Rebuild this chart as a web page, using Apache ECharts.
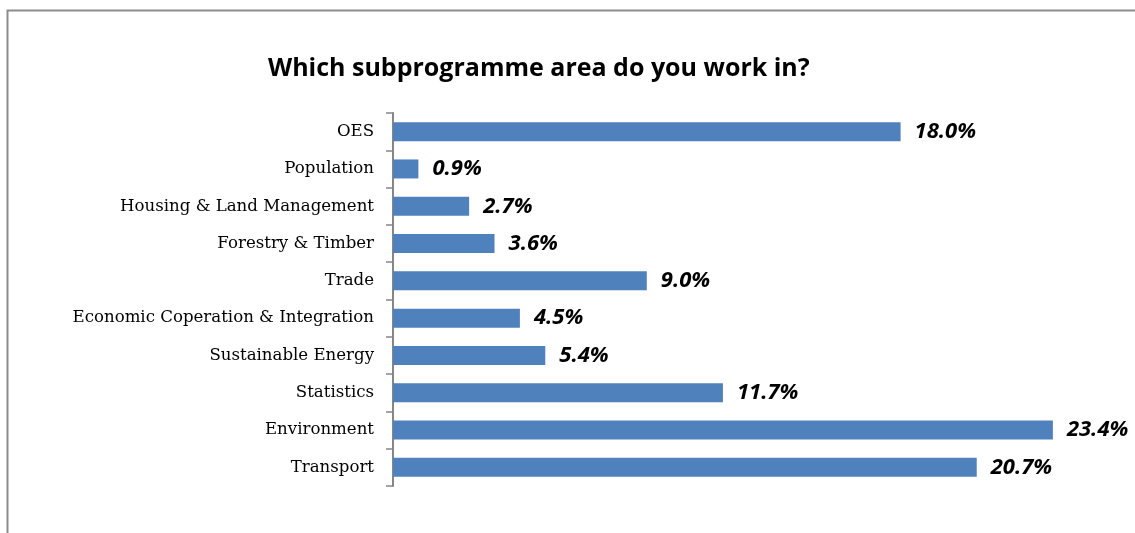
<!DOCTYPE html>
<html>
<head>
<meta charset="utf-8">
<script src="https://cdn.jsdelivr.net/npm/echarts@6/dist/echarts.min.js"></script>
<style>
  html, body { margin: 0; padding: 0; background: #fff; }
  #main { width: 1135px; height: 533px; }
</style>
</head>
<body>
<div id="main"></div>
<script>
var categories = ['OES', 'Population', 'Housing & Land Management', 'Forestry & Timber', 'Trade',
  'Economic Coperation & Integration', 'Sustainable Energy', 'Statistics', 'Environment', 'Transport'];
var shares = [18.0, 0.9, 2.7, 3.6, 9.0, 4.5, 5.4, 11.7, 23.4, 20.7];

var myChart = echarts.init(document.getElementById('main'));
var option = {
  animation: false,
  title: {
    text: 'Which subprogramme area do you work in?',
    left: 263,
    top: 51,
    textStyle: {
      fontFamily: 'Open Sans',
      fontWeight: 'bold',
      fontSize: 25,
      color: '#000'
    }
  },
  // chart frame
  graphic: [{
    type: 'rect',
    shape: { x: 7.5, y: 10.5, width: 1140, height: 540 },
    style: { fill: 'none', stroke: '#8c8c8c', lineWidth: 2 }
  }],
  grid: {
    left: 393,
    right: 37,
    top: 113,
    bottom: 47
  },
  xAxis: {
    type: 'value',
    min: 0,
    max: 25,
    show: false
  },
  yAxis: {
    type: 'category',
    inverse: true,
    data: categories,
    axisLine: { lineStyle: { color: '#868686', width: 2 } },
    axisTick: { show: true, length: 7, lineStyle: { color: '#868686', width: 1.5 } },
    axisLabel: {
      fontFamily: 'DejaVu Serif',
      fontSize: 16.6,
      color: '#000',
      margin: 19
    }
  },
  series: [{
    type: 'bar',
    data: shares,
    barWidth: 19,
    itemStyle: { color: '#4F81BD' },
    label: {
      show: true,
      position: 'right',
      distance: 14,
      fontFamily: 'Open Sans',
      fontWeight: 'bold',
      fontStyle: 'italic',
      fontSize: 22,
      color: '#000',
      formatter: function (p) { return p.value.toFixed(1) + '%'; }
    }
  }]
};
myChart.setOption(option);
window.addEventListener('resize', function () {
  myChart.resize();
});
</script>
</body>
</html>
